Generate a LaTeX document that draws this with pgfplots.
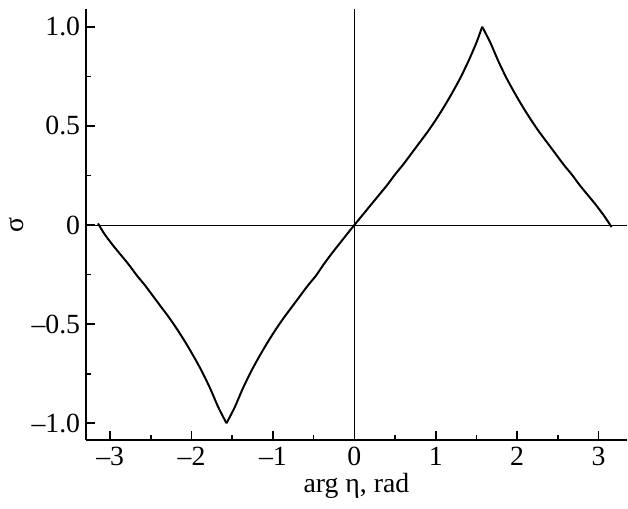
\documentclass[border=0pt]{standalone}
\usepackage{pgfplots}
\pgfplotsset{compat=1.18}
\usepackage{fontspec}
\setmainfont{Liberation Serif}
\begin{document}
\fontsize{14}{16}\selectfont
\begin{tikzpicture}
\begin{axis}[
  scale only axis,
  width=273pt, height=217.5pt,
  axis lines*=left,
  axis line style={line width=1pt},
  xmin=-3.30, xmax=3.35,
  ymin=-1.085, ymax=1.09,
  xtick={-3,-2,-1,0,1,2,3},
  xticklabels={\textendash3,\textendash2,\textendash1,0,1,2,3},
  ytick={-1,-0.5,0,0.5,1},
  yticklabels={\textendash1.0,\textendash0.5,0,0.5,1.0},
  minor xtick={-2.5,-1.5,-0.5,0.5,1.5,2.5},
  minor ytick={-0.75,-0.25,0.25,0.75},
  tick align=inside,
  major tick length=4.5pt,
  minor tick length=2.5pt,
  tick style={line width=0.8pt, black},
  xticklabel style={yshift=1.5pt},
  yticklabel style={xshift=2pt},
  xlabel={arg η, rad},
  xlabel style={yshift=5.5pt},
  ylabel={σ},
  ylabel style={at={(axis description cs:-0.128,0.5)}, anchor=center},
  clip=false,
]
\addplot[line width=0.5pt] coordinates {(-3.30,0) (3.35,0)};
\addplot[line width=0.5pt] coordinates {(0,-1.085) (0,1.09)};
\addplot[line width=1pt, smooth, tension=0.4] coordinates {
(-3.15,0.008) (-3.0708,-0.045) (-2.9708,-0.10) (-2.8708,-0.15) (-2.7708,-0.20)
(-2.6708,-0.255) (-2.5708,-0.305) (-2.4708,-0.36) (-2.3708,-0.415)
(-2.2708,-0.47) (-2.1708,-0.53) (-2.0708,-0.595) (-1.9708,-0.665)
(-1.8708,-0.74) (-1.7708,-0.825) (-1.6708,-0.92) (-1.5708,-1.0)
};
\addplot[line width=1pt, smooth, tension=0.4] coordinates {
(-1.5708,-1.0)
(-1.4708,-0.92) (-1.3708,-0.825) (-1.2708,-0.74) (-1.1708,-0.665)
(-1.0708,-0.595) (-0.9708,-0.53) (-0.8708,-0.47) (-0.7708,-0.415)
(-0.6708,-0.36) (-0.5708,-0.305) (-0.4708,-0.255) (-0.3708,-0.195)
(-0.2708,-0.14) (-0.1708,-0.088) (-0.0708,-0.036) (0,0)
(0.1,0.05) (0.2,0.10) (0.3,0.15) (0.4,0.20) (0.5,0.255) (0.6,0.305)
(0.7,0.36) (0.8,0.415) (0.9,0.47) (1.0,0.53) (1.1,0.595) (1.2,0.665)
(1.3,0.74) (1.4,0.825) (1.5,0.92) (1.5708,1.0)
};
\addplot[line width=1pt, smooth, tension=0.4] coordinates {
(1.5708,1.0)
(1.6708,0.92) (1.7708,0.825) (1.8708,0.74) (1.9708,0.665) (2.0708,0.595)
(2.1708,0.53) (2.2708,0.47) (2.3708,0.415) (2.4708,0.36) (2.5708,0.305)
(2.6708,0.255) (2.7708,0.20) (2.8708,0.15) (2.9708,0.10) (3.0708,0.045)
(3.16,-0.01)
};
\end{axis}
\path ([yshift=4.5pt]current axis.north west);
\end{tikzpicture}
\end{document}
